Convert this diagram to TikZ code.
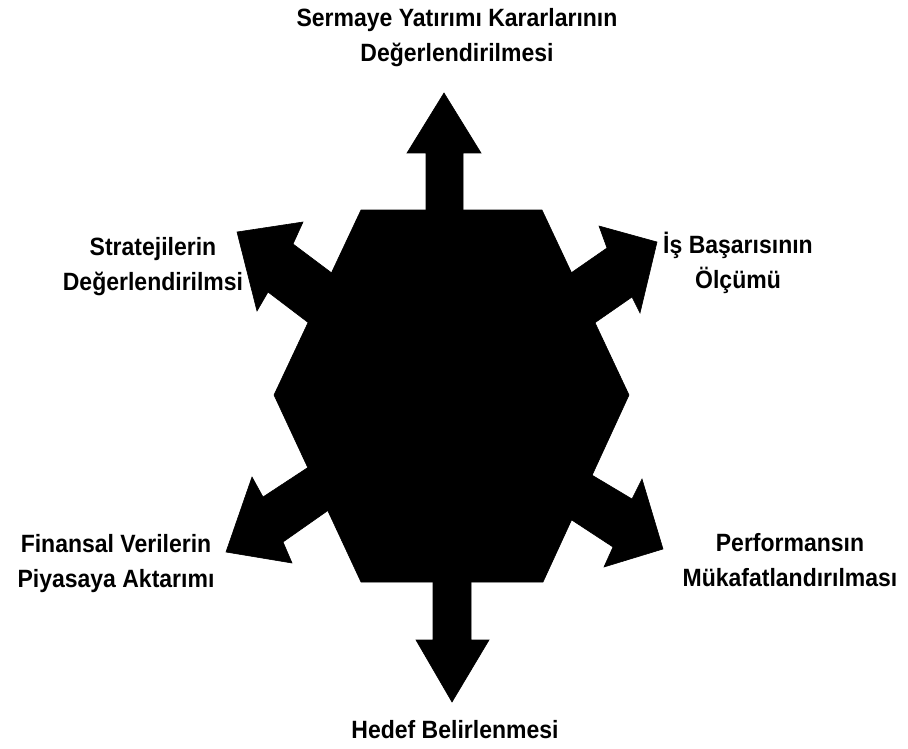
\documentclass[tikz,border=0pt]{standalone}
\usepackage{fontspec}
\newfontfamily\labfont[FakeStretch=0.92]{Liberation Sans}
\begin{document}
\begin{tikzpicture}[x=1pt,y=-1pt,
  shape fill/.style={fill=black,draw=black,line width=0.6pt,line join=miter},
  lab/.style={font=\labfont\bfseries\fontsize{25}{35}\selectfont,align=center,inner sep=0pt,anchor=base}]
\useasboundingbox (0,0) rectangle (908,749);
% arrows
\fill[shape fill] (426,215) -- (426,153) -- (407,153) -- (444,93) -- (481,153) -- (463,153) -- (463,215) -- cycle;
\fill[shape fill] (433,577) -- (433,640) -- (416,640) -- (452,702) -- (489,640) -- (471,640) -- (471,577) -- cycle;
\fill[shape fill] (237,232) -- (303,222) -- (293,244) -- (345,283) -- (318,330) -- (268,292) -- (257,311) -- cycle;
\fill[shape fill] (657,242) -- (599,226) -- (607,248) -- (558,282) -- (583,331) -- (632,297) -- (640,313) -- cycle;
\fill[shape fill] (226,552) -- (252,477) -- (263,497) -- (330,453) -- (350,495) -- (283,542) -- (292,563) -- cycle;
\fill[shape fill] (663,549) -- (642,479) -- (632,499) -- (570,462) -- (555,509) -- (613,547) -- (604,567) -- cycle;
% hexagon
\fill[shape fill] (361,210) -- (542,210) -- (629,395) -- (543,582) -- (361,582) -- (274,395) -- cycle;
% labels (anchor = baseline of the last line)
\node[lab] (top) at (457,62) {Sermaye Yatırımı Kararlarının\\Değerlendirilmesi};
\node[lab] (ul) at (153,290) {Stratejilerin\\Değerlendirilmsi};
\node[lab] (ur) at (738,288) {İş Başarısının\\Ölçümü};
\node[lab] (ll) at (116,587) {Finansal Verilerin\\Piyasaya Aktarımı};
\node[lab] (lr) at (790,586) {Performansın\\Mükafatlandırılması};
\node[lab] (bot) at (455,738) {Hedef Belirlenmesi};
\end{tikzpicture}
\end{document}
